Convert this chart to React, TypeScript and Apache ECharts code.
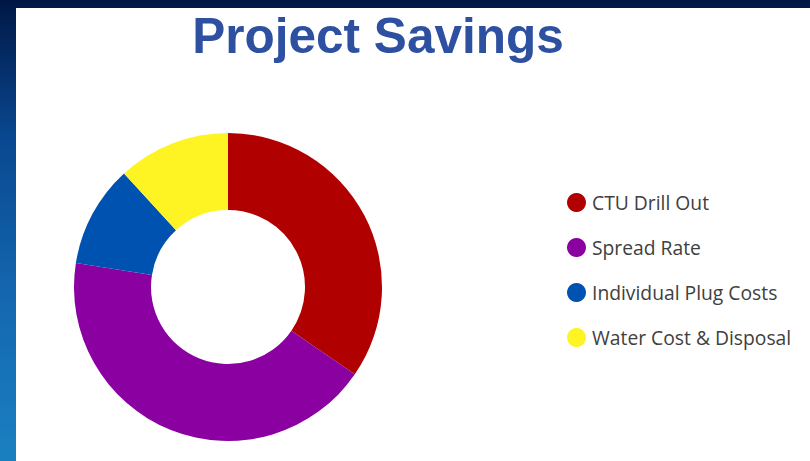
import React, { useEffect, useRef } from "react";
import * as echarts from "echarts";

const categories = ["CTU Drill Out", "Spread Rate", "Individual Plug Costs", "Water Cost & Disposal"];
const values = [34.6, 42.9, 10.7, 11.8];
const colors = ["#b00000", "#8a00a0", "#0052b0", "#fff423"];
const titleText = "Project Savings";

export default function App() {
  const ref = useRef<HTMLDivElement>(null);
  useEffect(() => {
    if (!ref.current) return;
    const chart = echarts.init(ref.current, undefined, { renderer: "svg" });
    chart.setOption({
      animation: false,
      backgroundColor: {
        type: "linear",
        x: 0, y: 0, x2: 0, y2: 1,
        colorStops: [
          { offset: 0, color: "#001745" },
          { offset: 0.3, color: "#094890" },
          { offset: 0.65, color: "#1468b0" },
          { offset: 1, color: "#1a80c0" },
        ],
      },
      graphic: [
        {
          type: "rect",
          z: -10,
          shape: { x: 16, y: 8, width: 794, height: 453 },
          style: { fill: "#ffffff" },
          silent: true,
        },
        {
          type: "text",
          x: 378,
          y: 35,
          style: {
            text: titleText,
            textAlign: "center",
            textVerticalAlign: "middle",
            font: "bold 49.5px 'Liberation Sans', Arial, sans-serif",
            fill: "#2d50a0",
          },
        },
      ],
      legend: {
        orient: "vertical",
        left: 567,
        top: 193,
        padding: 0,
        icon: "circle",
        itemWidth: 19,
        itemHeight: 19,
        itemGap: 26,
        data: categories,
        textStyle: {
          fontSize: 19.3,
          color: "#404040",
          fontFamily: "'Open Sans', 'Noto Sans', sans-serif",
          padding: [0, 0, 0, 1],
        },
      },
      series: [
        {
          type: "pie",
          center: [228, 287],
          radius: [77, 154],
          startAngle: 90,
          clockwise: true,
          label: { show: false },
          labelLine: { show: false },
          itemStyle: { borderWidth: 0 },
          emphasis: { disabled: true },
          data: categories.map((name, i) => ({
            name,
            value: values[i],
            itemStyle: { color: colors[i] },
          })),
        },
      ],
    });
    return () => chart.dispose();
  }, []);
  return (
    <div
      ref={ref}
      style={{ position: "fixed", left: 0, top: 0, width: 810, height: 461 }}
    />
  );
}
